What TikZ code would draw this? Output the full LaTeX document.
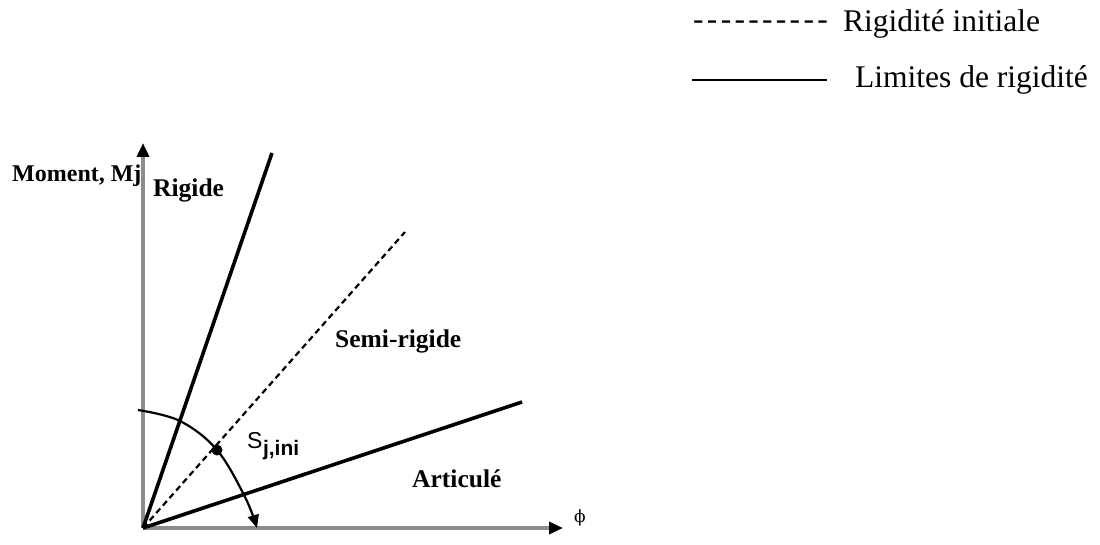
\documentclass[tikz,border=0pt]{standalone}
\usepackage{fontspec}
\setmainfont{Liberation Serif}
\newfontfamily\sansf{Liberation Sans}
\newfontfamily\dvserif{DejaVu Serif}
\usetikzlibrary{arrows.meta}
\begin{document}
\begin{tikzpicture}[x=1pt,y=-1pt,
  lbl/.style={inner sep=0pt, anchor=base west, font=\fontsize{25.5}{30}\selectfont\bfseries},
  legtxt/.style={inner sep=0pt, anchor=base west, font=\fontsize{31.5}{36}\selectfont},
  axisline/.style={draw=black!45, line width=3.5pt, -{Triangle[width=12pt,length=14pt,color=black]}},
  limitline/.style={line width=3.6pt, draw=black},
  initline/.style={line width=2.2pt, draw=black, dash pattern=on 6pt off 4pt}]
\useasboundingbox (0,0) rectangle (1100,545);
% legend
\node[legtxt] (dashes) at (693,30) {-\hspace{3.3pt}-\hspace{3.3pt}-\hspace{3.3pt}-\hspace{3.3pt}-\hspace{3.3pt}-\hspace{3.3pt}-\hspace{3.3pt}-\hspace{3.3pt}-\hspace{3.3pt}-};
\node[legtxt] (leg1) at (843,32) {Rigidité initiale};
\coordinate (L1) at (692,80);
\coordinate (L2) at (827,80);
\draw[line width=2.5pt] (L1) -- (L2);
\node[legtxt] (leg2) at (855,88) {Limites de rigidité};
% axes
\coordinate (O) at (143,528);
\coordinate (Ytop) at (143,143);
\coordinate (Xend) at (563,528);
\draw[axisline] (O) -- (Ytop);
\draw[axisline] (O) -- (Xend);
% lines
\coordinate (Rtop) at (272,153);
\coordinate (Dtop) at (405,232);
\coordinate (Atop) at (522,402);
\draw[limitline] (O) -- (Rtop);
\draw[limitline] (O) -- (Atop);
\draw[initline] (O) -- (Dtop);
% arc
\coordinate (c1) at (138,410);
\coordinate (c2) at (180,421);
\coordinate (dot) at (217,450);
\coordinate (c4) at (245,497);
\coordinate (c5) at (257,528);
\draw[line width=2.2pt, -{Triangle[width=11pt,length=13pt]}] plot[smooth, tension=0.6] coordinates {(c1) (c2) (dot) (c4) (c5)};
\fill (dot) circle (5.5pt);
% labels
\node[inner sep=0pt, anchor=base west, font=\fontsize{24}{28}\selectfont\bfseries] (moment) at (12,182) {Moment, Mj};
\node[lbl] (rigide) at (153,197) {Rigide};
\node[lbl] (semi) at (335,347) {Semi-rigide};
\node[lbl] (artic) at (412,487) {Articulé};
\node[inner sep=0pt, anchor=base west, font=\sansf\fontsize{23}{26}\selectfont] (sji) at (247,448) {S\kern0.5pt\raisebox{-7pt}{\fontsize{21}{22}\selectfont\bfseries j,ini}};
\node[inner sep=0pt, font=\dvserif\fontsize{17}{20}\selectfont] (phi) at (580,518) {ϕ};
\end{tikzpicture}
\end{document}
